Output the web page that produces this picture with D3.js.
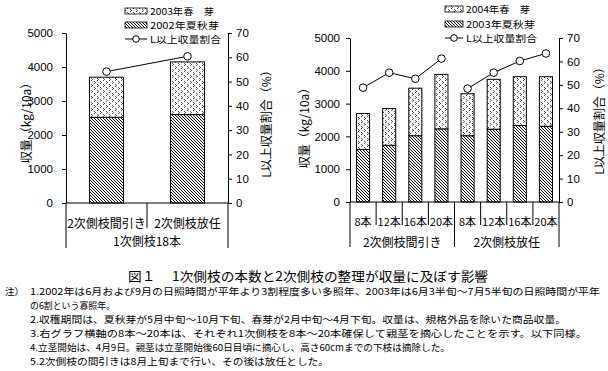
<!DOCTYPE html>
<html>
<head>
<meta charset="utf-8">
<script src="https://cdn.jsdelivr.net/npm/d3@7"></script>
<style>
  body { margin: 0; background: #fff; }
  text { font-family: "Noto Sans CJK JP", sans-serif; fill: #000; }
</style>
</head>
<body>
<div id="chart"></div>
<script>
// left chart: 2002 summer-autumn + 2003 spring
var leftLabels = ["2次側枝間引き", "2次側枝放任"];
var leftGroups = ["1次側枝18本"];
var leftGroupOf = [0, 0];
var leftSummer = [2520, 2600];
var leftSpring = [1180, 1550];
var leftRatio = [54.1, 60.4];
var leftLegend = ["2003年春　芽", "2002年夏秋芽", "L以上収量割合"];

// right chart: 2003 summer-autumn + 2004 spring
var rightLabels = ["8本", "12本", "16本", "20本", "8本", "12本", "16本", "20本"];
var rightGroups = ["2次側枝間引き", "2次側枝放任"];
var rightGroupOf = [0, 0, 0, 0, 1, 1, 1, 1];
var rightSummer = [1600, 1730, 2020, 2230, 2020, 2220, 2330, 2310];
var rightSpring = [1100, 1120, 1450, 1660, 1280, 1520, 1490, 1510];
var rightRatio = [48.8, 55.2, 52.6, 61.2, 48.4, 55.2, 60.2, 63.4];
var rightLegend = ["2004年春　芽", "2003年夏秋芽", "L以上収量割合"];

var yieldTicks = [0, 1000, 2000, 3000, 4000, 5000];
var ratioTicks = [0, 10, 20, 30, 40, 50, 60, 70];

var caption = "図１　 1次側枝の本数と2次側枝の整理が収量に及ぼす影響";
var notes = [
  "1.2002年は6月および9月の日照時間が平年より3割程度多い多照年、2003年は6月3半旬～7月5半旬の日照時間が平年",
  "の6割という寡照年。",
  "2.収穫期間は、夏秋芽が5月中旬～10月下旬、春芽が2月中旬～4月下旬。収量は、規格外品を除いた商品収量。",
  "3.右グラフ横軸の8本～20本は、それぞれ1次側枝を8本～20本確保して親茎を摘心したことを示す。以下同様。",
  "4.立茎開始は、4月9日。親茎は立茎開始後60日目頃に摘心し、高さ60cmまでの下枝は摘除した。",
  "5.2次側枝の間引きは8月上旬まで行い、その後は放任とした。"
];

var width = 608, height = 371;
var numFont = '"Liberation Sans", Arial, sans-serif';

var svg = d3.select("#chart").append("svg")
  .attr("width", width)
  .attr("height", height);

// fill patterns
var defs = svg.append("defs");
var hatch = defs.append("pattern")
  .attr("id", "hatch")
  .attr("patternUnits", "userSpaceOnUse")
  .attr("width", 3).attr("height", 3);
hatch.append("rect").attr("width", 3).attr("height", 3).attr("fill", "#fff");
hatch.append("path")
  .attr("d", "M0,0 L3,3 M-1,2 L1,4 M2,-1 L4,1")
  .attr("stroke", "#000").attr("stroke-width", 1);

var dots = defs.append("pattern")
  .attr("id", "dots")
  .attr("patternUnits", "userSpaceOnUse")
  .attr("width", 6).attr("height", 6);
dots.append("rect").attr("width", 6).attr("height", 6).attr("fill", "#fff");
[[1, 0], [2, 1], [1, 2], [4, 3], [5, 4], [4, 5]].forEach(function(p) {
  dots.append("rect").attr("x", p[0]).attr("y", p[1])
    .attr("width", 1).attr("height", 1).attr("fill", "#555");
});

function drawPanel(o) {
  var n = o.labels.length;
  var g = svg.append("g");
  var x = d3.scaleBand().domain(d3.range(n)).range([o.left, o.right]);
  var y = d3.scaleLinear().domain([0, 5000]).range([o.bottom, o.top]);
  var y2 = d3.scaleLinear().domain([0, 70]).range([o.bottom, o.top]);
  var bw = x.bandwidth() * o.barFrac;
  var bx = function(i) { return x(i) + (x.bandwidth() - bw) / 2; };

  // stacked bars
  g.selectAll(".summer").data(o.summer).enter().append("rect")
    .attr("x", function(d, i) { return bx(i); })
    .attr("y", function(d) { return y(d); })
    .attr("width", bw)
    .attr("height", function(d) { return y(0) - y(d); })
    .attr("fill", "url(#hatch)").attr("stroke", "#000").attr("stroke-width", 1);
  g.selectAll(".spring").data(o.spring).enter().append("rect")
    .attr("x", function(d, i) { return bx(i); })
    .attr("y", function(d, i) { return y(o.summer[i] + d); })
    .attr("width", bw)
    .attr("height", function(d, i) { return y(o.summer[i]) - y(o.summer[i] + d); })
    .attr("fill", "url(#dots)").attr("stroke", "#000").attr("stroke-width", 1);

  // y axes
  var axL = g.append("g").attr("transform", "translate(" + o.left + ",0)")
    .call(d3.axisLeft(y).tickValues(yieldTicks).tickFormat(d3.format("d"))
      .tickSize(4).tickSizeOuter(0).tickPadding(o.padL));
  var axR = g.append("g").attr("transform", "translate(" + o.right + ",0)")
    .call(d3.axisRight(y2).tickValues(ratioTicks).tickFormat(d3.format("d"))
      .tickSize(4).tickSizeOuter(0).tickPadding(o.padR));
  [axL, axR].forEach(function(a) {
    a.selectAll("text").style("font-family", numFont).style("font-size", "11.5px");
    a.select(".domain").attr("stroke", "#000");
  });

  // x axis and category frame
  g.append("line").attr("x1", o.left).attr("x2", o.right)
    .attr("y1", o.bottom).attr("y2", o.bottom).attr("stroke", "#000");
  [o.left, o.right].forEach(function(px) {
    g.append("line").attr("x1", px).attr("x2", px)
      .attr("y1", o.bottom).attr("y2", o.base).attr("stroke", "#000");
  });
  for (var i = 1; i < n; i++) {
    var split = o.groupOf[i] !== o.groupOf[i - 1];
    g.append("line").attr("x1", x(i)).attr("x2", x(i))
      .attr("y1", o.bottom).attr("y2", split ? o.base : o.divEnd).attr("stroke", "#000");
  }
  g.selectAll(".lab").data(o.labels).enter().append("text")
    .attr("x", function(d, i) { return x(i) + x.bandwidth() / 2; })
    .attr("y", o.labelY)
    .attr("text-anchor", "middle").attr("dominant-baseline", "central")
    .style("font-size", o.labelSize + "px")
    .text(function(d) { return d; });
  o.groups.forEach(function(name, gi) {
    var idx = d3.range(n).filter(function(i) { return o.groupOf[i] === gi; });
    var cx = (x(idx[0]) + x(idx[idx.length - 1]) + x.bandwidth()) / 2;
    g.append("text").attr("x", cx).attr("y", o.groupY)
      .attr("text-anchor", "middle").attr("dominant-baseline", "central")
      .style("font-size", "12px").text(name);
  });

  // ratio line, one run per group
  var line = d3.line()
    .x(function(i) { return x(i) + x.bandwidth() / 2; })
    .y(function(i) { return y2(o.ratio[i]); });
  o.groups.forEach(function(name, gi) {
    var idx = d3.range(n).filter(function(i) { return o.groupOf[i] === gi; });
    g.append("path").attr("d", line(idx)).attr("fill", "none").attr("stroke", "#000");
  });
  g.selectAll(".pt").data(o.ratio).enter().append("circle")
    .attr("cx", function(d, i) { return x(i) + x.bandwidth() / 2; })
    .attr("cy", function(d) { return y2(d); })
    .attr("r", 3.8).attr("fill", "#fff").attr("stroke", "#000");

  // axis titles
  g.append("text")
    .attr("transform", "translate(" + o.yTitle[0] + "," + o.yTitle[1] + ") rotate(-90)")
    .attr("text-anchor", "middle").attr("dominant-baseline", "central")
    .style("font-size", "12px").text("収量（kg/10a）");
  g.append("text")
    .attr("transform", "translate(" + o.y2Title[0] + "," + o.y2Title[1] + ") rotate(-90)")
    .attr("text-anchor", "middle").attr("dominant-baseline", "central")
    .style("font-size", "12px").text("L以上収量割合（%）");

  // legend
  var lg = g.append("g");
  [0, 1].forEach(function(k) {
    lg.append("rect").attr("x", o.legX).attr("y", o.legY[k] - 3)
      .attr("width", o.legW).attr("height", 6)
      .attr("fill", k === 0 ? "url(#dots)" : "url(#hatch)")
      .attr("stroke", "#000").attr("stroke-width", 0.8);
  });
  lg.append("line").attr("x1", o.legX).attr("x2", o.legX + o.legW)
    .attr("y1", o.legY[2]).attr("y2", o.legY[2]).attr("stroke", "#000");
  lg.append("circle").attr("cx", o.legX + o.legW / 2).attr("cy", o.legY[2])
    .attr("r", 3.3).attr("fill", "#fff").attr("stroke", "#000");
  o.legend.forEach(function(t, k) {
    lg.append("text").attr("x", o.legX + o.legW + 3).attr("y", o.legY[k])
      .attr("dominant-baseline", "central")
      .attr("textLength", o.legTextW[k]).attr("lengthAdjust", "spacingAndGlyphs")
      .style("font-size", "9.5px").text(t);
  });
}

drawPanel({
  labels: leftLabels, groups: leftGroups, groupOf: leftGroupOf,
  summer: leftSummer, spring: leftSpring, ratio: leftRatio, legend: leftLegend,
  left: 66, right: 228, top: 33, bottom: 203, base: 248, divEnd: 228,
  barFrac: 0.42, labelY: 222, groupY: 240, labelSize: 12,
  padL: 9, padR: 4,
  legX: 125, legW: 22, legY: [11, 25, 39], legTextW: [64, 69, 71],
  yTitle: [25, 120], y2Title: [265, 121]
});

drawPanel({
  labels: rightLabels, groups: rightGroups, groupOf: rightGroupOf,
  summer: rightSummer, spring: rightSpring, ratio: rightRatio, legend: rightLegend,
  left: 350, right: 559, top: 38, bottom: 202, base: 247, divEnd: 225,
  barFrac: 0.5, labelY: 221, groupY: 241, labelSize: 11,
  padL: 6, padR: 4,
  legX: 445, legW: 18, legY: [9, 24, 38], legTextW: [64, 69, 71],
  yTitle: [303, 125], y2Title: [598, 118]
});

// caption and notes
svg.append("text").attr("x", 128).attr("y", 275)
  .attr("dominant-baseline", "central")
  .attr("textLength", 360).attr("lengthAdjust", "spacingAndGlyphs")
  .style("font-size", "13px").text(caption);

var noteEnds = [600, 115, 566, 587, 450, 329];
var noteY = [291, 305, 319, 333, 347, 361];
svg.append("text").attr("x", 5).attr("y", noteY[0])
  .attr("dominant-baseline", "central").style("font-size", "9.5px").text("注）");
notes.forEach(function(t, i) {
  svg.append("text").attr("x", 30).attr("y", noteY[i])
    .attr("dominant-baseline", "central")
    .attr("textLength", noteEnds[i] - 30).attr("lengthAdjust", "spacingAndGlyphs")
    .style("font-size", "9.5px").text(t);
});
</script>
</body>
</html>
